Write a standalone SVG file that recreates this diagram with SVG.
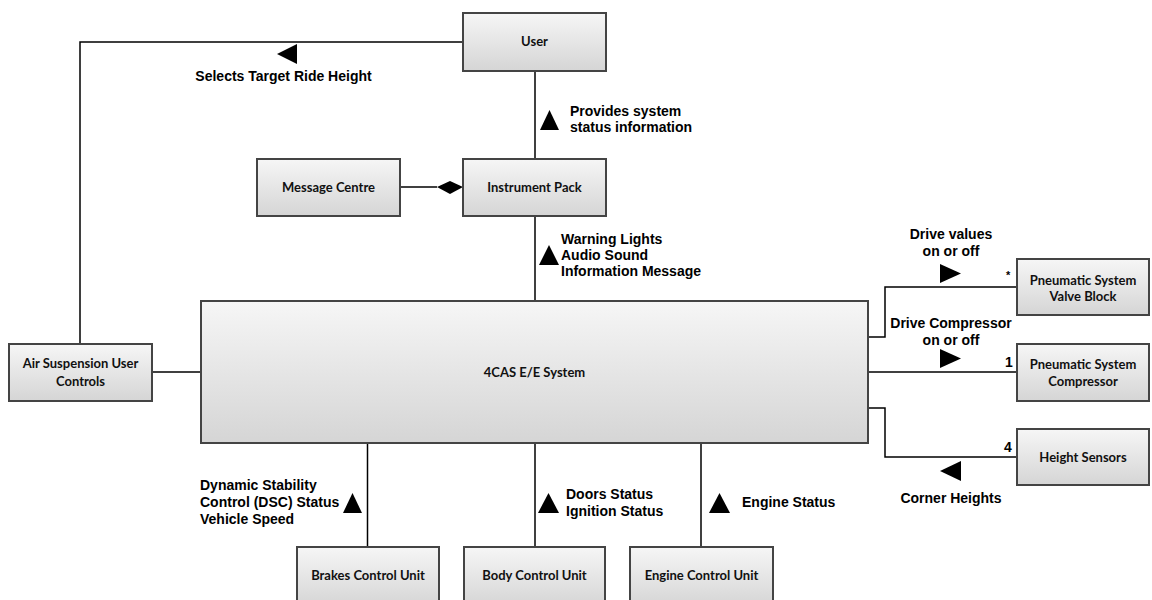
<svg xmlns="http://www.w3.org/2000/svg" width="1152" height="600" viewBox="0 0 1152 600">
  <defs>
    <linearGradient id="boxFill" x1="0" y1="0" x2="0" y2="1">
      <stop offset="0" stop-color="#f6f6f6"/>
      <stop offset="1" stop-color="#d5d5d5"/>
    </linearGradient>
  </defs>
  <style>
    .box { fill: url(#boxFill); stroke: #444; stroke-width: 2; }
    .name { font-family: Lato, "Open Sans", sans-serif; font-weight: bold; font-size: 13px; fill: #111; text-anchor: middle; }
    .wire { fill: none; stroke: #000; stroke-width: 1.5; }
    .tri { fill: #000; }
    .lbl { font-family: "Liberation Sans", Arial, sans-serif; font-weight: bold; font-size: 14px; fill: #000; }
    .mid { text-anchor: middle; }
  </style>

  <!-- connectors -->
  <g id="connectors">
    <path class="wire" d="M463 42 H80 V344"/>
    <path class="wire" d="M535 71 V159"/>
    <path class="wire" d="M400 187 H437"/>
    <path class="tri" d="M437 187 L450 181 L463 187 L450 194 Z"/>
    <path class="wire" d="M535 216 V301"/>
    <path class="wire" d="M152 372 H201"/>
    <path class="wire" d="M868 337 H885 V287 H1017"/>
    <path class="wire" d="M868 372 H1017"/>
    <path class="wire" d="M868 408 H885 V457 H1017"/>
    <path class="wire" d="M367.5 443 V547"/>
    <path class="wire" d="M535 443 V547"/>
    <path class="wire" d="M701 443 V547"/>

    <!-- direction arrows -->
    <path class="tri" d="M297 44 V64 L277 54 Z"/>
    <path class="tri" d="M540 130 H559 L549.5 110 Z"/>
    <path class="tri" d="M539 265 H559 L549 245 Z"/>
    <path class="tri" d="M940 264 V283 L961 273.5 Z"/>
    <path class="tri" d="M940 349 V368 L961 358.5 Z"/>
    <path class="tri" d="M961 461 V481 L940 471 Z"/>
    <path class="tri" d="M343 513 H362 L352.5 493 Z"/>
    <path class="tri" d="M538 513 H559 L548.5 493 Z"/>
    <path class="tri" d="M709 513 H730 L719.5 493 Z"/>

    <!-- flow labels -->
    <text class="lbl mid" x="283.5" y="81">Selects Target Ride Height</text>
    <text class="lbl" x="570" y="116">Provides system</text>
    <text class="lbl" x="570" y="132">status information</text>
    <text class="lbl" x="561" y="244">Warning Lights</text>
    <text class="lbl" x="561" y="260">Audio Sound</text>
    <text class="lbl" x="561" y="276">Information Message</text>
    <text class="lbl mid" x="951" y="239">Drive values</text>
    <text class="lbl mid" x="951" y="256">on or off</text>
    <text class="lbl mid" x="951" y="328">Drive Compressor</text>
    <text class="lbl mid" x="951" y="345">on or off</text>
    <text class="lbl mid" x="951" y="503">Corner Heights</text>
    <text class="lbl" x="200" y="490">Dynamic Stability</text>
    <text class="lbl" x="200" y="507">Control (DSC) Status</text>
    <text class="lbl" x="200" y="524">Vehicle Speed</text>
    <text class="lbl" x="566" y="499">Doors Status</text>
    <text class="lbl" x="566" y="516">Ignition Status</text>
    <text class="lbl" x="742" y="507">Engine Status</text>

    <!-- multiplicities -->
    <text class="lbl" x="1006" y="279" style="font-size:11px">*</text>
    <text class="lbl" x="1005" y="367">1</text>
    <text class="lbl" x="1004" y="452">4</text>
  </g>

  <!-- nodes -->
  <g id="user">
    <rect class="box" x="463" y="13" width="143" height="58"/>
    <text class="name" x="534.5" y="46">User</text>
  </g>
  <g id="instrument-pack">
    <rect class="box" x="463" y="159" width="143" height="57"/>
    <text class="name" x="534.5" y="192">Instrument Pack</text>
  </g>
  <g id="message-centre">
    <rect class="box" x="257" y="159" width="143" height="57"/>
    <text class="name" x="328.5" y="192">Message Centre</text>
  </g>
  <g id="system">
    <rect class="box" x="201" y="301" width="667" height="142"/>
    <text class="name" x="534.5" y="377">4CAS E/E System</text>
  </g>
  <g id="air-suspension-controls">
    <rect class="box" x="9" y="344" width="143" height="57"/>
    <text class="name" x="80.5" y="368">Air Suspension User</text>
    <text class="name" x="80.5" y="386">Controls</text>
  </g>
  <g id="valve-block">
    <rect class="box" x="1017" y="259" width="132" height="56"/>
    <text class="name" x="1083" y="285">Pneumatic System</text>
    <text class="name" x="1083" y="301">Valve Block</text>
  </g>
  <g id="compressor">
    <rect class="box" x="1017" y="344" width="132" height="57"/>
    <text class="name" x="1083" y="369">Pneumatic System</text>
    <text class="name" x="1083" y="386">Compressor</text>
  </g>
  <g id="height-sensors">
    <rect class="box" x="1017" y="429" width="132" height="56"/>
    <text class="name" x="1083" y="462">Height Sensors</text>
  </g>
  <g id="brakes-control-unit">
    <rect class="box" x="297" y="547" width="142" height="60"/>
    <text class="name" x="368" y="580">Brakes Control Unit</text>
  </g>
  <g id="body-control-unit">
    <rect class="box" x="464" y="547" width="141" height="60"/>
    <text class="name" x="534.5" y="580">Body Control Unit</text>
  </g>
  <g id="engine-control-unit">
    <rect class="box" x="630" y="547" width="143" height="60"/>
    <text class="name" x="701.5" y="580">Engine Control Unit</text>
  </g>
</svg>
